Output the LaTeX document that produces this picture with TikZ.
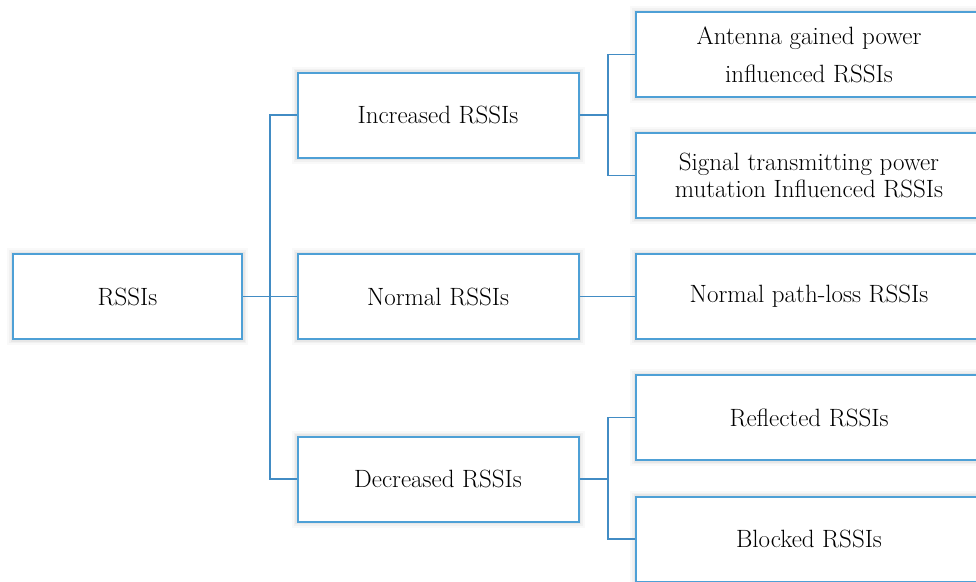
\documentclass[tikz,border=0pt]{standalone}
\definecolor{boxblue}{RGB}{78,160,214}
\definecolor{lineblue}{RGB}{66,140,196}
\begin{document}
\begin{tikzpicture}[x=1pt,y=-1pt,
  box/.style={draw=boxblue, line width=2pt, fill=white, minimum width=#1, minimum height=85pt,
    inner sep=0pt, align=center, text=black, font=\fontsize{25}{30}\selectfont,
    preaction={draw=black, draw opacity=0.025, line width=12pt},
    preaction={draw=black, draw opacity=0.03, line width=8pt},
    preaction={draw=black, draw opacity=0.04, line width=5pt}},
  box/.default=281pt,
  link/.style={draw=lineblue, line width=1.6pt}]
\useasboundingbox (0,0) rectangle (976,581);
\clip (0,0) rectangle (976,581);
\fill[white] (0,0) rectangle (976,581);
\node[box=229pt] (root) at (127.5,296.5) {RSSIs};
\node[box] (inc) at (438,115) {Increased RSSIs};
\node[box] (nor) at (438,296.5) {Normal RSSIs};
\node[box] (dec) at (438,479) {Decreased RSSIs};
\node[box=346pt, font=\fontsize{25}{38}\selectfont] (ant) at (809,54.5) {Antenna gained power\\influenced RSSIs};
\node[box=346pt, font=\fontsize{25}{27}\selectfont] (sig) at (809,175.5) {Signal transmitting power\\mutation Influenced RSSIs};
\node[box=346pt] (npl) at (809,296.5) {Normal path-loss RSSIs};
\node[box=346pt] (ref) at (809,417.5) {Reflected RSSIs};
\node[box=346pt] (blk) at (809,539) {Blocked RSSIs};
\coordinate (t1) at (270,0);
\coordinate (t2) at (608,0);
\draw[link] (root.east) -- (nor.west);
\draw[link] (inc.west) -- (t1 |- inc.west) -- (t1 |- dec.west) -- (dec.west);
\draw[link] (inc.east) -- (t2 |- inc.east);
\draw[link] (ant.west) -- (t2 |- ant.west) -- (t2 |- sig.west) -- (sig.west);
\draw[link] (nor.east) -- (npl.west);
\draw[link] (dec.east) -- (t2 |- dec.east);
\draw[link] (ref.west) -- (t2 |- ref.west) -- (t2 |- blk.west) -- (blk.west);
\end{tikzpicture}
\end{document}
